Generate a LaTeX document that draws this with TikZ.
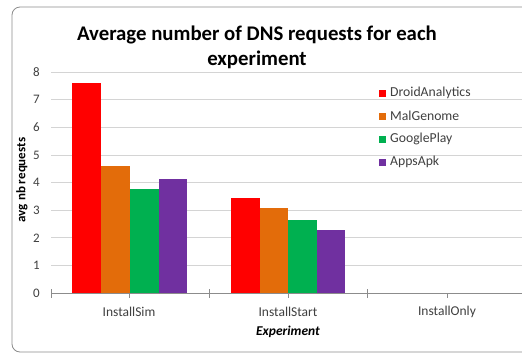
\documentclass[tikz,border=0pt]{standalone}
\usepackage{fontspec}
\setmainfont{Carlito}
\definecolor{cRed}{HTML}{FF0000}
\definecolor{cOrange}{HTML}{E36C0A}
\definecolor{cGreen}{HTML}{00B050}
\definecolor{cPurple}{HTML}{7030A0}
\definecolor{gridc}{HTML}{D4D4D4}
\definecolor{axisc}{HTML}{8C8C8C}
\definecolor{txtc}{HTML}{404040}
\tikzset{
  grid line/.style={draw=gridc, line width=0.9pt},
  axis line/.style={draw=axisc, line width=0.9pt},
  ticklab/.style={font=\fontsize{13}{15}\selectfont, text=txtc, inner sep=0pt},
  catlab/.style={font=\fontsize{13.5}{15}\selectfont, text=txtc, inner sep=0pt},
  leglab/.style={font=\fontsize{13.7}{15}\selectfont, text=txtc, inner sep=0pt, anchor=west},
  legsq/.style={minimum size=7pt, inner sep=0pt},
  titlelab/.style={font=\bfseries\fontsize{20.8}{22}\selectfont, inner sep=0pt, anchor=base},
}
\begin{document}
\begin{tikzpicture}[x=1pt,y=-1pt]
\useasboundingbox (0,0) rectangle (522,354);
\clip (0,0) rectangle (522,354);
\fill[white] (0,0) rectangle (522,354);
\draw[axisc, line width=0.8pt, rounded corners=8pt] (12,7) rectangle (570,352);
% gridlines
\foreach \k in {1,...,8} {
  \draw[grid line] (51,{293-27.6*\k}) -- (530,{293-27.6*\k});
}
% y tick labels
\foreach \k in {0,...,8} {
  \node[ticklab, anchor=east] (yl\k) at (40,{293-27.6*\k}) {\k};
}
% bars InstallSim
\fill[cRed]    (72,293)  rectangle (101,{293-27.6*7.62});
\fill[cOrange] (101,293) rectangle (130,{293-27.6*4.6});
\fill[cGreen]  (130,293) rectangle (159,{293-27.6*3.76});
\fill[cPurple] (159,293) rectangle (187,{293-27.6*4.12});
% bars InstallStart
\fill[cRed]    (231,293) rectangle (260,{293-27.6*3.43});
\fill[cOrange] (260,293) rectangle (288,{293-27.6*3.08});
\fill[cGreen]  (288,293) rectangle (317,{293-27.6*2.64});
\fill[cPurple] (317,293) rectangle (345,{293-27.6*2.29});
% x axis
\draw[axis line] (51,293) -- (530,293);
\foreach \x in {51,209,367} { \draw[axis line] (\x,289) -- (\x,298); }
\foreach \x in {129,288,447} { \draw[axis line] (\x,293) -- (\x,298); }
% category labels
\node[catlab] (c1) at (129,312) {InstallSim};
\node[catlab] (c2) at (288,312) {InstallStart};
\node[catlab] (c3) at (447,312) {InstallOnly};
\node[font=\bfseries\itshape\fontsize{13.5}{15}\selectfont, inner sep=0pt] (xt) at (288,332) {Experiment};
% y title
\node[font=\bfseries\fontsize{13}{15}\selectfont, rotate=90, inner sep=0pt] (yt) at (22,180) {avg nb requests};
% title
\node[titlelab] (t1) at (257,40) {Average number of DNS requests for each};
\node[titlelab] (t2) at (257,65) {experiment};
% legend
\node[legsq, fill=cRed]    (s1) at (382.5,93) {};
\node[legsq, fill=cOrange] (s2) at (382.5,116) {};
\node[legsq, fill=cGreen]  (s3) at (382.5,139) {};
\node[legsq, fill=cPurple] (s4) at (382.5,162) {};
\node[leglab] (l1) at (390,93) {DroidAnalytics};
\node[leglab] (l2) at (390,116) {MalGenome};
\node[leglab] (l3) at (390,139) {GooglePlay};
\node[leglab] (l4) at (390,162) {AppsApk};
\end{tikzpicture}
\end{document}
